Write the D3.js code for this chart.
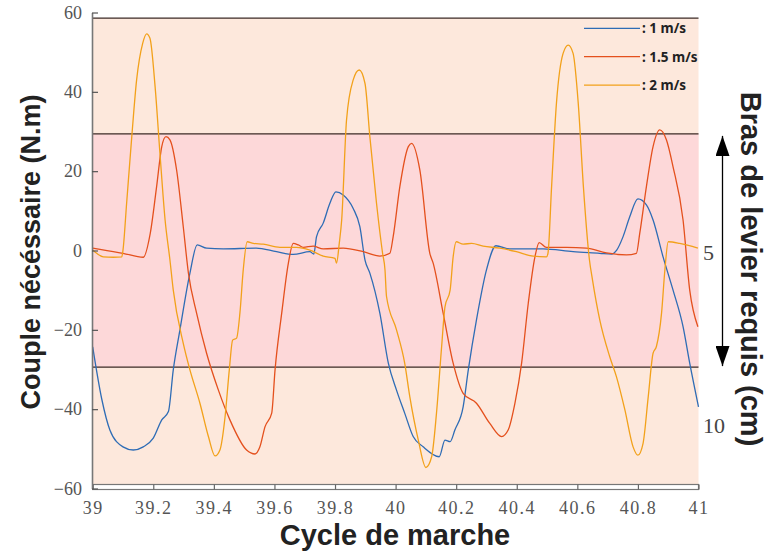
<!DOCTYPE html>
<html>
<head>
<meta charset="utf-8">
<script src="https://cdn.jsdelivr.net/npm/d3@7"></script>
<style>
  html, body { margin: 0; padding: 0; background: #fff; }
  svg { display: block; }
</style>
</head>
<body>
<svg id="chart" width="768" height="555"></svg>
<script>
// Gait cycle position (x) and required torque in N.m (y) for each walking speed
const speed1X = [39.000,39.030,39.057,39.100,39.134,39.167,39.200,39.228,39.250,39.266,39.288,39.321,39.345,39.376,39.431,39.540,39.607,39.662,39.717,39.730,39.739,39.761,39.783,39.803,39.827,39.860,39.882,39.899,39.915,39.948,39.976,40.003,40.030,40.058,40.091,40.144,40.163,40.180,40.196,40.223,40.240,40.267,40.300,40.331,40.377,40.487,40.586,40.674,40.713,40.730,40.751,40.773,40.800,40.828,40.850,40.883,40.916,40.949,40.971,41.000];
const speed1Y = [-24.3,-37.5,-45.3,-49.5,-50.3,-49.5,-47.3,-42.7,-40.6,-30.1,-20.0,-5.7,1.4,0.6,0.4,0.6,-0.3,-1.0,-0.3,-0.9,3.5,6.9,11.9,14.8,14.0,10.6,6.0,-2.4,-5.7,-15.8,-28.4,-35.2,-41.0,-46.9,-49.5,-52.0,-47.8,-48.2,-45.2,-39.4,-30.1,-17.5,-4.9,1.2,0.4,0.4,-0.3,-0.7,-0.9,0.1,3.5,8.5,13.0,11.5,7.7,-1.6,-10.0,-19.2,-28.4,-39.4];

const speed15X = [39.000,39.024,39.100,39.167,39.190,39.211,39.228,39.242,39.255,39.277,39.299,39.316,39.343,39.376,39.415,39.453,39.508,39.536,39.552,39.569,39.591,39.602,39.624,39.646,39.662,39.679,39.695,39.728,39.761,39.827,39.893,39.948,39.981,39.992,40.014,40.042,40.053,40.080,40.113,40.124,40.157,40.190,40.223,40.267,40.311,40.350,40.372,40.394,40.416,40.438,40.460,40.474,40.498,40.564,40.630,40.696,40.762,40.795,40.806,40.828,40.850,40.872,40.894,40.916,40.949,40.971,40.998];
const speed15Y = [0.6,0.3,-0.7,-1.7,4.3,16.1,26.2,28.7,27.9,20.3,6.0,-5.7,-15.8,-25.9,-35.2,-42.7,-50.3,-51.3,-49.5,-44.4,-41.0,-30.1,-15.8,-3.2,1.8,1.4,0.8,1.1,0.4,0.6,-0.3,-1.4,-0.7,3.5,16.1,26.2,27.0,20.3,-0.7,-3.2,-15.8,-28.4,-36.0,-38.5,-43.6,-46.9,-45.2,-38.5,-28.4,-13.3,-1.6,2.0,0.8,0.8,0.6,-0.6,-1.1,-0.7,4.3,16.1,26.2,30.4,27.9,21.1,7.7,-10.0,-19.2];

const speed2X = [39.000,39.013,39.035,39.068,39.096,39.100,39.112,39.129,39.145,39.165,39.178,39.189,39.206,39.222,39.239,39.255,39.266,39.299,39.321,39.354,39.382,39.404,39.420,39.437,39.451,39.462,39.475,39.486,39.497,39.510,39.530,39.563,39.618,39.673,39.717,39.761,39.800,39.805,39.814,39.822,39.838,39.860,39.880,39.899,39.915,39.937,39.957,39.965,39.970,40.003,40.030,40.047,40.075,40.100,40.119,40.135,40.152,40.163,40.180,40.190,40.200,40.223,40.251,40.289,40.344,40.399,40.454,40.498,40.503,40.515,40.531,40.553,40.570,40.586,40.603,40.620,40.640,40.650,40.674,40.707,40.729,40.757,40.784,40.800,40.817,40.834,40.850,40.861,40.878,40.889,40.900,40.938,40.998];
const speed2Y = [0.1,-0.7,-1.6,-1.7,-1.6,0.1,11.9,28.7,43.0,52.2,54.6,53.5,41.3,24.5,7.7,-2.4,-10.0,-23.4,-30.1,-38.5,-46.9,-51.8,-50.3,-41.9,-30.1,-22.6,-22.1,-15.8,-4.9,2.2,1.8,1.6,0.8,0.8,0.1,-1.4,-2.0,-3.2,1.8,7.7,32.9,43.0,45.5,42.1,28.7,11.9,-0.7,-4.9,-11.6,-20.0,-28.4,-36.9,-47.8,-54.7,-52.0,-41.0,-24.2,-14.2,-10.0,-1.6,2.2,1.6,1.8,1.1,0.6,-0.3,-1.4,-1.6,-0.7,16.1,37.1,49.7,51.8,49.7,37.1,16.1,-2.4,-7.4,-17.5,-26.8,-31.8,-40.2,-49.5,-51.6,-48.6,-36.9,-25.9,-24.2,-15.8,-4.9,2.2,1.8,0.6];

const seriesNames = [": 1 m/s", ": 1.5 m/s", ": 2 m/s"];
const seriesColors = ["#2e6cb5", "#e4501d", "#f2a11a"];

// Axis ticks
const xTicks = [39, 39.2, 39.4, 39.6, 39.8, 40, 40.2, 40.4, 40.6, 40.8, 41];
const yTicks = [-60, -40, -20, 0, 20, 40, 60];
// Lever-arm labels on the right, placed at the torque level they correspond to
const leverLabels = ["5", "10"];
const leverAt = [-0.4, -44];

// Shaded zones (N.m)
const zoneOuter = [-58.9, 58.6];
const zoneInner = [-29.4, 29.4];

const svg = d3.select("#chart");
const x = d3.scaleLinear().domain([39, 41]).range([92.7, 698.5]);
const y = d3.scaleLinear().domain([-60, 60]).range([488.5, 12.5]);

// Background zones
svg.append("rect")
  .attr("x", x(39)).attr("width", x(41) - x(39))
  .attr("y", y(zoneOuter[1])).attr("height", y(zoneOuter[0]) - y(zoneOuter[1]))
  .attr("fill", "#fde8dc");
svg.append("rect")
  .attr("x", x(39)).attr("width", x(41) - x(39))
  .attr("y", y(zoneInner[1])).attr("height", y(zoneInner[0]) - y(zoneInner[1]))
  .attr("fill", "#fdd8d9");

// Boundary lines
[zoneOuter[1], zoneInner[1], zoneInner[0]].forEach(v => {
  svg.append("line")
    .attr("x1", x(39)).attr("x2", x(41))
    .attr("y1", y(v)).attr("y2", y(v))
    .attr("stroke", "#3b2a26").attr("stroke-width", 1.3);
});

// Curves
const line = d3.line()
  .x(d => x(d[0])).y(d => y(d[1]))
  .curve(d3.curveMonotoneX);
const series = [
  d3.zip(speed1X, speed1Y),
  d3.zip(speed15X, speed15Y),
  d3.zip(speed2X, speed2Y)
];
svg.append("g").selectAll("path")
  .data(series)
  .join("path")
  .attr("d", line)
  .attr("fill", "none")
  .attr("stroke", (d, i) => seriesColors[i])
  .attr("stroke-width", 1.3)
  .attr("stroke-linejoin", "round");

// X axis box
svg.append("rect")
  .attr("x", x(39)).attr("width", x(41) - x(39))
  .attr("y", 484.5).attr("height", 5)
  .attr("fill", "#fff").attr("stroke", "#777").attr("stroke-width", 1.2);

const xAxis = svg.append("g")
  .attr("transform", "translate(0,489.5)")
  .call(d3.axisBottom(x).tickValues(xTicks).tickSize(-5).tickPadding(12)
    .tickFormat(d => d3.format("")(+d.toFixed(1))));
xAxis.select(".domain").remove();
xAxis.selectAll(".tick line").attr("stroke", "#666").attr("stroke-width", 1.2);
xAxis.selectAll("text")
  .attr("fill", "#555")
  .style("font-family", "'Liberation Serif', 'DejaVu Serif', serif")
  .style("font-size", "18px")
  .style("letter-spacing", "1.5px");

// Y axis
const yAxis = svg.append("g")
  .attr("transform", `translate(${x(39) - 0.7},0)`)
  .call(d3.axisLeft(y).tickValues(yTicks).tickSizeInner(-6).tickSizeOuter(0).tickPadding(10));
yAxis.select(".domain")
  .attr("stroke", "#777").attr("stroke-width", 1.6);
yAxis.selectAll(".tick line").attr("stroke", "#555").attr("stroke-width", 1.2);
yAxis.selectAll("text")
  .attr("fill", "#555")
  .style("font-family", "'Liberation Serif', 'DejaVu Serif', serif")
  .style("font-size", "18px");

// Right-hand lever-arm labels
svg.append("g").selectAll("text")
  .data(leverLabels)
  .join("text")
  .attr("x", 703)
  .attr("y", (d, i) => y(leverAt[i]))
  .attr("dy", "0.35em")
  .attr("fill", "#444")
  .style("font-family", "'Liberation Serif', 'DejaVu Serif', serif")
  .style("font-size", "22px")
  .text(d => d);

// Double-headed arrow spanning the inner zone
const defs = svg.append("defs");
defs.append("marker")
  .attr("id", "head")
  .attr("viewBox", "0 0 20 14")
  .attr("refX", 20).attr("refY", 7)
  .attr("markerWidth", 20).attr("markerHeight", 14)
  .attr("markerUnits", "userSpaceOnUse")
  .attr("orient", "auto-start-reverse")
  .append("path").attr("d", "M0,0 L20,7 L0,14 z").attr("fill", "#000");
svg.append("line")
  .attr("x1", 722.5).attr("x2", 722.5)
  .attr("y1", y(zoneInner[1]) + 2).attr("y2", y(zoneInner[0]) - 1)
  .attr("stroke", "#000").attr("stroke-width", 1.3)
  .attr("marker-start", "url(#head)")
  .attr("marker-end", "url(#head)");

// Legend
const legend = svg.append("g");
seriesNames.forEach((name, i) => {
  const ly = 28.3 + i * 28.4;
  legend.append("line")
    .attr("x1", 584).attr("x2", 640)
    .attr("y1", ly).attr("y2", ly)
    .attr("stroke", seriesColors[i]).attr("stroke-width", 1.3);
  legend.append("text")
    .attr("x", 642).attr("y", ly).attr("dy", "0.36em")
    .attr("fill", "#222")
    .style("font-family", "'Noto Sans', 'Liberation Sans', sans-serif")
    .style("font-weight", "bold")
    .style("font-size", "13.5px")
    .text(name);
});

// Titles
const titleStyle = sel => sel
  .attr("fill", "#222")
  .attr("text-anchor", "middle")
  .style("font-family", "'Liberation Sans', Arial, sans-serif")
  .style("font-weight", "bold");

svg.append("text").call(titleStyle)
  .attr("x", 395).attr("y", 545)
  .style("font-size", "29px")
  .text("Cycle de marche");

svg.append("text").call(titleStyle)
  .attr("transform", "translate(40,252) rotate(-90)")
  .style("font-size", "27px")
  .text("Couple nécéssaire (N.m)");

svg.append("text").call(titleStyle)
  .attr("transform", "translate(741,269) rotate(90)")
  .style("font-size", "29px")
  .text("Bras de levier requis (cm)");
</script>
</body>
</html>
